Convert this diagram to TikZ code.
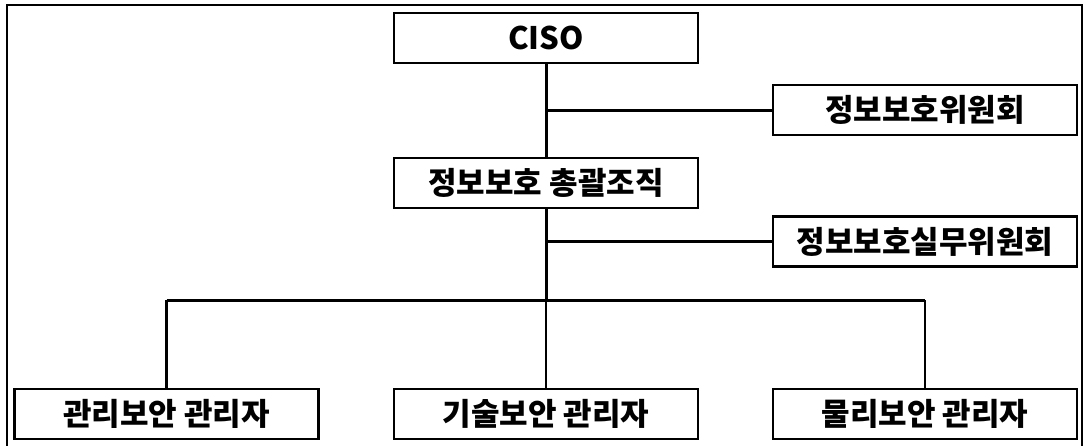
\documentclass[tikz,border=0pt]{standalone}
\usepackage{fontspec}
\setmainfont{Noto Sans CJK KR}
\begin{document}
\begin{tikzpicture}[x=1pt,y=-1pt,
  box/.style={draw=black,line width=2.2pt,fill=white,minimum width=304pt,minimum height=50pt,inner sep=0pt,font=\fontsize{31}{35}\selectfont\bfseries},
  conn/.style={line width=3pt},
  drop/.style={line width=2.5pt}]
\useasboundingbox (0,0) rectangle (1084,445);
\draw[line width=2.2pt] (7,446) -- (7,5) -- (1082,5) -- (1082,446);
\node[box] (ciso) at (546,38) {CISO};
\node[box] (com1) at (925,110) {정보보호위원회};
\node[box] (hq) at (546,183) {정보보호 총괄조직};
\node[box] (com2) at (925,241.5) {정보보호실무위원회};
\node[box] (mgmt) at (166.5,414) {관리보안 관리자};
\node[box] (tech) at (546,414) {기술보안 관리자};
\node[box] (phys) at (925,414) {물리보안 관리자};
\coordinate (bar) at (546,300);
\draw[conn] (ciso.south) -- (hq.north);
\draw[conn] (hq.south) -- (bar);
\draw[drop] (bar) -- (tech.north);
\draw[conn] (ciso.south |- com1.west) -- (com1.west);
\draw[conn] (hq.south |- com2.west) -- (com2.west);
\draw[conn] (mgmt.north |- bar) -- (phys.north |- bar);
\draw[drop] (mgmt.north |- bar) -- (mgmt.north);
\draw[drop] (phys.north |- bar) -- (phys.north);
\end{tikzpicture}
\end{document}
